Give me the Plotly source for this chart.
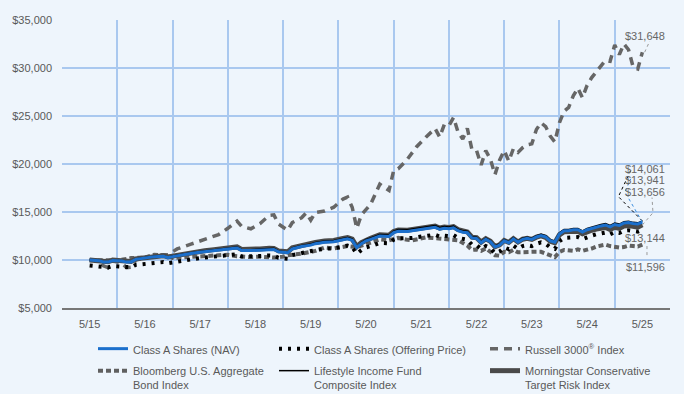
import plotly.graph_objects as go

# ---------------- data ----------------
tick_months = [0, 12, 24, 36, 48, 60, 72, 84, 96, 108, 120]
tick_labels = ["5/15", "5/16", "5/17", "5/18", "5/19", "5/20", "5/21", "5/22", "5/23", "5/24", "5/25"]

fund_months = [0, 2, 3, 4, 5, 7, 8, 9, 10, 12, 14, 16, 17, 18, 19, 21, 23, 25, 27, 29,
               31, 32, 33, 35, 37, 39, 40, 41, 43, 44, 46, 48, 49, 51, 53, 55, 56, 57, 58, 59,
               60, 61, 63, 65, 66, 67, 69, 70, 72, 74, 75, 76, 77, 78, 79, 80, 81, 82, 83, 84,
               85, 86, 87, 88, 89, 90, 91, 92, 93, 94, 95, 96, 97, 98, 99, 100, 101, 102, 103, 104,
               105, 106, 107, 108, 109, 110, 111, 112, 113, 114, 115, 116, 117, 118, 119, 120]

nav = [10000, 9930, 9800, 9780, 9950, 9900, 9780, 9800, 10070, 10200, 10350, 10380, 10250, 10350, 10450, 10600, 10750, 10880, 10980, 11100,
       11200, 11250, 11000, 10980, 11050, 11120, 11100, 10850, 10750, 11150, 11400, 11550, 11700, 11850, 11900, 12100, 12200, 12050, 11300, 11700,
       12000, 12150, 12500, 12450, 12850, 13000, 12980, 13050, 13200, 13350, 13400, 13200, 13300, 13250, 13350, 13050, 12900, 12850, 12300, 12250,
       11800, 12150, 11900, 11350, 11550, 12000, 11800, 12200, 11850, 12150, 12250, 12150, 12400, 12550, 12400, 12000, 11850, 12700, 13050, 13050,
       13150, 13150, 12900, 13150, 13300, 13450, 13550, 13650, 13450, 13700, 13600, 13850, 13900, 13800, 13750, 13941]

offering = [9425, 9359, 9237, 9218, 9378, 9331, 9218, 9237, 9491, 9614, 9755, 9783, 9661, 9755, 9849, 9991, 10132, 10254, 10349, 10462,
            10556, 10603, 10368, 10349, 10415, 10481, 10462, 10226, 10132, 10509, 10745, 10886, 11027, 11169, 11216, 11404, 11499, 11357, 10650, 11027,
            11310, 11451, 11781, 11734, 12111, 12253, 12234, 12300, 12441, 12582, 12630, 12441, 12535, 12488, 12582, 12300, 12158, 12111, 11593, 11546,
            11122, 11451, 11216, 10697, 10886, 11310, 11122, 11499, 11169, 11451, 11546, 11451, 11687, 11828, 11687, 11310, 11169, 11970, 12300, 12300,
            12394, 12394, 12158, 12394, 12535, 12677, 12771, 12865, 12677, 12912, 12818, 13054, 13101, 13007, 12959, 13144]

lifestyle = [10000, 9950, 9820, 9800, 9970, 9930, 9810, 9830, 10110, 10240, 10400, 10430, 10300, 10410, 10510, 10670, 10830, 10960, 11070, 11200,
             11300, 11350, 11100, 11080, 11150, 11230, 11210, 10950, 10840, 11260, 11520, 11670, 11830, 11990, 12040, 12250, 12350, 12200, 11400, 11820,
             12130, 12290, 12650, 12600, 13010, 13170, 13150, 13220, 13380, 13530, 13580, 13380, 13480, 13430, 13530, 13220, 13060, 13000, 12430, 12380,
             11920, 12280, 12020, 11460, 11670, 12130, 11920, 12330, 11970, 12280, 12380, 12280, 12530, 12680, 12530, 12110, 11960, 12830, 13180, 13180,
             13280, 13280, 13030, 13290, 13440, 13590, 13690, 13790, 13590, 13840, 13740, 13990, 14040, 13920, 13870, 14061]

morningstar = [10000, 9960, 9840, 9810, 9990, 9940, 9800, 9840, 10120, 10260, 10420, 10450, 10310, 10400, 10500, 10670, 10830, 10970, 11080, 11210,
               11320, 11360, 11100, 11080, 11150, 11230, 11210, 10950, 10850, 11270, 11530, 11680, 11830, 11980, 12030, 12240, 12340, 12180, 11380, 11800,
               12110, 12270, 12630, 12580, 12980, 13130, 13110, 13180, 13330, 13480, 13530, 13330, 13430, 13380, 13480, 13170, 12990, 12930, 12380, 12320,
               11860, 12210, 11950, 11390, 11580, 12040, 11830, 12230, 11870, 12170, 12250, 12140, 12380, 12520, 12360, 11950, 11790, 12620, 12950, 12940,
               13020, 13000, 12740, 12970, 13100, 13230, 13310, 13390, 13180, 13410, 13300, 13540, 13580, 13470, 13410, 13656]

russell_months = [0, 2, 3, 4, 5, 7, 8, 9, 10, 13, 15, 17, 19, 22, 25, 28, 30, 32, 33, 35,
                  37, 39, 40, 41, 43, 44, 46, 47, 48, 49, 51, 53, 55, 56, 57, 58, 59, 61, 63, 65,
                  66, 67, 69, 71, 73, 74, 75, 76, 77, 78, 79, 80, 81, 82, 83, 84, 85, 86, 87, 88,
                  89, 90, 91, 92, 93, 94, 95, 96, 97, 98, 99, 100, 101, 102, 103, 104, 105, 106, 107, 108,
                  109, 110, 111, 112, 113, 114, 115, 116, 117, 118, 119, 120]
russell = [10000, 10000, 9400, 9200, 9900, 9700, 9200, 9250, 10000, 10350, 10500, 10550, 11150, 11650, 12150, 12650, 13300, 14050, 13500, 13250,
           13800, 14650, 14700, 13750, 13100, 13900, 14400, 14900, 14150, 14950, 15100, 15500, 16350, 16550, 15500, 13300, 14700, 15800, 17900, 17250,
           19300, 19500, 20500, 21800, 22800, 23300, 23700, 22800, 24100, 24000, 24850, 23300, 22600, 23700, 21500, 21400, 19900, 21400, 20500, 18900,
           20400, 21400, 20300, 21600, 21200, 21700, 22000, 22100, 23600, 24300, 23900, 22900, 22300, 24300, 25500, 25900, 27100, 27900, 26900, 28200,
           29000, 29600, 30200, 30800, 30700, 32400, 31400, 32500, 31900, 30100, 29900, 31648]

bbg_months = [0, 3, 6, 9, 12, 14, 15, 17, 18, 20, 24, 27, 30, 32, 35, 37, 40, 42, 43, 46,
              48, 49, 51, 53, 56, 58, 60, 62, 63, 65, 67, 69, 70, 73, 75, 77, 79, 80, 82, 83,
              84, 85, 86, 87, 88, 89, 90, 91, 92, 93, 95, 96, 98, 99, 100, 101, 102, 103, 105, 106,
              107, 108, 109, 110, 111, 112, 113, 115, 116, 117, 118, 119, 120]
bbg = [10000, 10000, 9950, 10200, 10250, 10550, 10550, 10450, 10200, 10250, 10400, 10500, 10550, 10400, 10300, 10350, 10250, 10350, 10500, 10650,
       10850, 10950, 11300, 11200, 11450, 11350, 11650, 11950, 12150, 12050, 12300, 12100, 12050, 12350, 12250, 12150, 12150, 12050, 11500, 11050,
       11100, 10950, 11200, 10900, 10500, 10450, 10850, 10800, 11050, 10800, 10900, 10850, 10850, 10700, 10450, 10300, 10850, 11050, 10950, 11100,
       10950, 11050, 11200, 11400, 11500, 11600, 11450, 11300, 11350, 11500, 11450, 11400, 11596]

end_labels = ["$31,648", "$14,061", "$13,941", "$13,656", "$13,144", "$11,596"]

# ---------------- styling ----------------
BG = "#EEF5FC"
GRID = "#A9C8EF"
TXT = "#595959"
FONT = "Liberation Sans, Arial, sans-serif"

fig = go.Figure()

fig.add_trace(go.Scatter(x=russell_months, y=russell, mode="lines", name="Russell 3000<sup>®</sup> Index",
                         line=dict(color="#666666", width=3.5, dash="8px,6px"),
                         legend="legend3", legendrank=1, legendgroup="r"))
fig.add_trace(go.Scatter(x=bbg_months, y=bbg, mode="lines", name="Bloomberg U.S. Aggregate<br>Bond Index",
                         line=dict(color="#606060", width=4, dash="5px,3px"),
                         legend="legend", legendrank=2, legendgroup="b"))
fig.add_trace(go.Scatter(x=fund_months, y=offering, mode="lines", name="Class A Shares (Offering Price)",
                         line=dict(color="#000000", width=4, dash="3px,6px"),
                         legend="legend2", legendrank=1, legendgroup="o"))
fig.add_trace(go.Scatter(x=fund_months, y=morningstar, mode="lines", name="Morningstar Conservative<br>Target Risk Index",
                         line=dict(color="#4a4a4a", width=5),
                         legend="legend3", legendrank=2, legendgroup="m"))
fig.add_trace(go.Scatter(x=fund_months, y=lifestyle, mode="lines", name="Lifestyle Income Fund<br>Composite Index",
                         line=dict(color="#000000", width=1.5),
                         legend="legend2", legendrank=2, legendgroup="l"))
fig.add_trace(go.Scatter(x=fund_months, y=nav, mode="lines", name="Class A Shares (NAV)",
                         line=dict(color="#1B6FCC", width=3),
                         legend="legend", legendrank=1, legendgroup="n"))

# end-value labels with leader lines
label_y = [33330, 19480, 18350, 17100, 12320, 9300]
label_font = dict(family=FONT, size=11, color="#666666")
for txt, ly in zip(end_labels, label_y):
    fig.add_annotation(x=0.995, xref="paper", y=ly, yref="y", text=txt, showarrow=False,
                       xanchor="right", yanchor="middle", font=label_font)

leaders = [
    ("M 120.5,31648 L 121.6,32800", "#999999"),
    ("M 120,14061 L 114.8,16600 L 117.5,19350", "#000000"),
    ("M 120,13941 L 116.2,17100 L 117.5,18460", "#3d8fe0"),
    ("M 120,13656 L 122.3,14920 L 122.1,16500", "#999999"),
    ("M 121,11450 L 121,10250", "#999999"),
]
for path, col in leaders:
    fig.add_shape(type="path", path=path, xref="x", yref="y",
                  line=dict(color=col, width=1, dash="dot"), layer="above")

legend_common = dict(xref="paper", yref="paper", xanchor="left", yanchor="top", orientation="v",
                     bgcolor="rgba(0,0,0,0)", font=dict(family=FONT, size=11, color=TXT),
                     valign="top", itemwidth=30, tracegroupgap=3, traceorder="grouped")
LEG_Y = -(335 - 308) / 288
fig.update_layout(
    width=684, height=394,
    margin=dict(l=62, r=14, t=20, b=86, autoexpand=False),
    paper_bgcolor=BG, plot_bgcolor=BG,
    font=dict(family=FONT, size=11, color=TXT),
    showlegend=True,
    legend=dict(x=(93 - 62) / 608, y=LEG_Y, **legend_common),
    legend2=dict(x=(274 - 62) / 608, y=LEG_Y, **legend_common),
    legend3=dict(x=(485 - 62) / 608, y=LEG_Y, **legend_common),
    xaxis=dict(range=[-6, 126], tickmode="array", tickvals=tick_months, ticktext=tick_labels,
               showgrid=False, zeroline=False, ticks="", showline=True, linecolor="#777777", linewidth=1.5,
               minor=dict(tick0=-6, dtick=12, showgrid=True, gridcolor=GRID, gridwidth=1.5, ticks=""),
               ticklabelstandoff=5,
               tickfont=dict(family=FONT, size=11, color=TXT)),
    yaxis=dict(range=[5000, 35000], tickmode="linear", tick0=5000, dtick=5000, tickformat="$,.0f",
               showgrid=True, gridcolor=GRID, gridwidth=1.5, zeroline=False, ticks="",
               ticklabelstandoff=9,
               showline=False, tickfont=dict(family=FONT, size=11, color=TXT)),
    hovermode=False,
)

fig.write_html("out.html", config={"displayModeBar": False},
               post_script="document.body.style.margin='0';")
